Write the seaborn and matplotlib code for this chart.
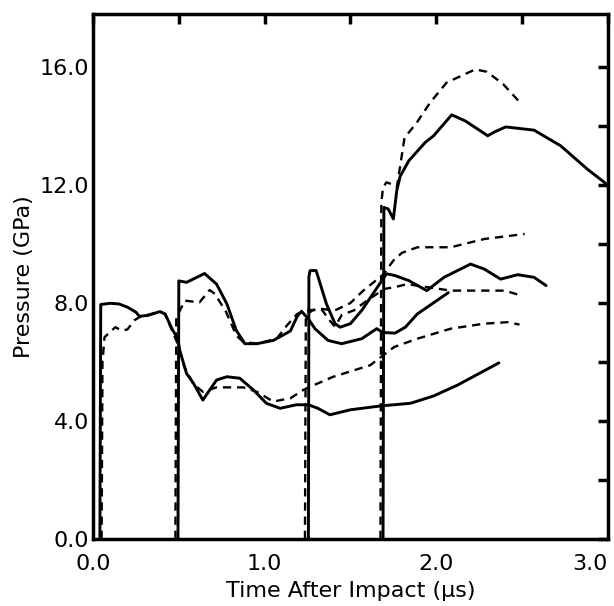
import seaborn as sns
import matplotlib
matplotlib.use('Agg')
from matplotlib import pyplot as plt
from matplotlib.ticker import MultipleLocator

# gauge records, time after impact (us) and pressure (GPa)
g1_solid_t = [0.04, 0.045, 0.10, 0.15, 0.20, 0.25, 0.27, 0.32, 0.39, 0.42, 0.465, 0.495, 0.505,
              0.545, 0.585, 0.64, 0.72, 0.78, 0.855, 0.935, 1.01, 1.09, 1.185, 1.255, 1.31, 1.38,
              1.50, 1.675, 1.85, 1.985, 2.125, 2.365]
g1_solid_p = [0.0, 7.95, 7.99, 7.97, 7.86, 7.69, 7.55, 7.58, 7.71, 7.63, 7.07, 6.79, 6.40,
              5.61, 5.28, 4.71, 5.39, 5.50, 5.45, 5.05, 4.60, 4.43, 4.55, 4.55, 4.43, 4.21,
              4.38, 4.51, 4.60, 4.85, 5.22, 5.97]

g1_dash_t = [0.05, 0.055, 0.067, 0.13, 0.165, 0.20, 0.24, 0.27, 0.32, 0.39, 0.42, 0.465, 0.495,
             0.535, 0.585, 0.64, 0.72, 0.875, 0.955, 1.05, 1.15, 1.225, 1.245, 1.40, 1.615,
             1.755, 1.89, 2.085, 2.28, 2.415, 2.485]
g1_dash_p = [0.0, 6.0, 6.84, 7.18, 7.07, 7.10, 7.41, 7.52, 7.60, 7.70, 7.62, 7.00, 6.6,
             5.8, 5.25, 4.99, 5.14, 5.14, 4.99, 4.66, 4.77, 5.05, 5.11, 5.50, 5.89,
             6.51, 6.79, 7.13, 7.30, 7.35, 7.27]

g2_solid_t = [0.495, 0.50, 0.545, 0.65, 0.72, 0.78, 0.835, 0.885, 0.955, 1.05, 1.15, 1.19, 1.215,
              1.254, 1.293, 1.37, 1.449, 1.566, 1.653, 1.69, 1.76, 1.82, 1.89, 1.975, 2.07]
g2_solid_p = [0.0, 8.75, 8.70, 9.00, 8.64, 7.97, 7.07, 6.62, 6.62, 6.73, 7.05, 7.55, 7.72,
              7.47, 7.13, 6.73, 6.62, 6.79, 7.13, 7.0, 6.98, 7.18, 7.63, 7.97, 8.35]

g2_dash_t = [0.48, 0.485, 0.535, 0.62, 0.68, 0.71, 0.775, 0.835, 0.875, 0.955, 1.07, 1.13, 1.19,
             1.245, 1.33, 1.41, 1.50, 1.575, 1.69, 1.75, 1.80, 1.89, 2.085, 2.28, 2.515]
g2_dash_p = [0.0, 7.5, 8.08, 8.02, 8.44, 8.31, 7.7, 6.9, 6.68, 6.62, 6.79, 7.24, 7.63,
             7.74, 7.80, 7.75, 8.0, 8.42, 8.96, 9.44, 9.7, 9.89, 9.89, 10.17, 10.34]

g3_solid_t = [1.255, 1.258, 1.265, 1.30, 1.36, 1.41, 1.44, 1.50, 1.566, 1.69, 1.71, 1.76, 1.84,
              1.92, 1.945, 2.045, 2.20, 2.28, 2.375, 2.475, 2.57, 2.64]
g3_solid_p = [0.0, 8.9, 9.1, 9.1, 7.97, 7.30, 7.18, 7.3, 7.75, 8.82, 8.99, 8.93, 8.76,
              8.50, 8.42, 8.87, 9.32, 9.15, 8.81, 8.96, 8.87, 8.59]

g3_dash_t = [1.235, 1.24, 1.28, 1.33, 1.38, 1.41, 1.45, 1.52, 1.60, 1.70, 1.76, 1.83, 2.085,
             2.28, 2.40, 2.495]
g3_dash_p = [0.0, 7.6, 7.75, 7.80, 7.4, 7.2, 7.6, 7.75, 8.1, 8.48, 8.54, 8.64, 8.42,
             8.42, 8.42, 8.25]

g4_solid_t = [1.69, 1.695, 1.72, 1.75, 1.77, 1.79, 1.84, 1.935, 1.985, 2.09, 2.17, 2.30, 2.34,
              2.405, 2.57, 2.725, 2.88, 2.98, 3.0]
g4_solid_p = [0.0, 11.24, 11.19, 10.85, 11.81, 12.3, 12.82, 13.44, 13.67, 14.38, 14.17, 13.67, 13.8,
              13.97, 13.86, 13.33, 12.54, 12.09, 11.95]

g4_dash_t = [1.675, 1.68, 1.69, 1.71, 1.74, 1.77, 1.79, 1.815, 1.887, 1.964, 2.06, 2.227,
             2.295, 2.39, 2.48]
g4_dash_p = [0.0, 11.4, 11.92, 12.09, 12.03, 11.92, 12.65, 13.6, 14.12, 14.79, 15.47, 15.92,
             15.84, 15.42, 14.85]

x_ticks = [0.0, 1.0, 2.0, 3.0]
x_labels = ['0.0', '1.0', '2.0', '3.0']
y_ticks = [0.0, 4.0, 8.0, 12.0, 16.0]
y_labels = ['0.0', '4.0', '8.0', '12.0', '16.0']

sns.set_style('white')
plt.rcParams['font.family'] = ['DejaVu Sans']
plt.rcParams['text.color'] = 'black'
plt.rcParams['axes.labelcolor'] = 'black'
plt.rcParams['xtick.color'] = 'black'
plt.rcParams['ytick.color'] = 'black'

fig = plt.figure(figsize=(6.14, 6.06), dpi=100)
ax = fig.add_axes([0.1515, 0.1106, 0.8385, 0.8664])

solid = [(g1_solid_t, g1_solid_p), (g2_solid_t, g2_solid_p),
         (g3_solid_t, g3_solid_p), (g4_solid_t, g4_solid_p)]
dashed = [(g1_dash_t, g1_dash_p), (g2_dash_t, g2_dash_p),
          (g3_dash_t, g3_dash_p), (g4_dash_t, g4_dash_p)]

for t, p in solid:
    sns.lineplot(x=t, y=p, sort=False, estimator=None, color='black',
                 linewidth=2.1, ax=ax)
for t, p in dashed:
    sns.lineplot(x=t, y=p, sort=False, estimator=None, color='black',
                 linewidth=1.7, linestyle=(0, (3.5, 2.5)), ax=ax)

ax.set_xlim(0, 3.0)
ax.set_ylim(0, 17.8)
ax.set_xticks(x_ticks)
ax.set_xticklabels(x_labels)
ax.set_yticks(y_ticks)
ax.set_yticklabels(y_labels)
ax.xaxis.set_minor_locator(MultipleLocator(0.5))
ax.yaxis.set_minor_locator(MultipleLocator(2.0))
ax.tick_params(which='both', direction='in', top=True, right=True,
               length=7, width=2.5, color='black')
ax.tick_params(axis='x', which='major', labelsize=16, pad=11)
ax.tick_params(axis='y', which='major', labelsize=16, pad=3)

# last x label hugs the right edge in the original
ax.get_xticklabels()[-1].set_horizontalalignment('right')

for side in ['left', 'right', 'top', 'bottom']:
    ax.spines[side].set_visible(True)
    ax.spines[side].set_linewidth(2.5)
    ax.spines[side].set_color('black')

ax.set_xlabel('Time After Impact (μs)', fontsize=16, labelpad=5)
ax.set_ylabel('Pressure (GPa)', fontsize=16, labelpad=4)

fig.savefig('out.png', dpi=100)
